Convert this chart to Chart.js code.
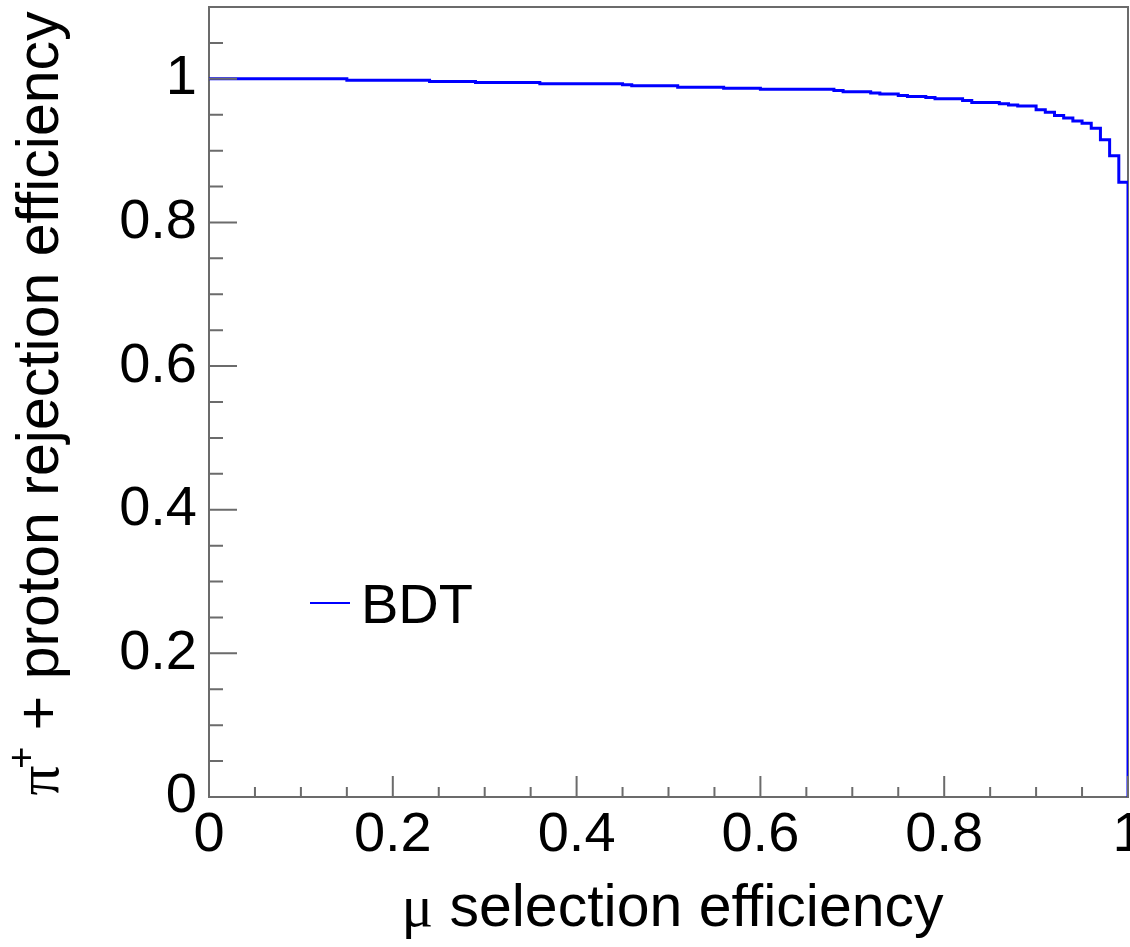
<!DOCTYPE html>
<html>
<head>
<meta charset="utf-8">
<script src="https://cdn.jsdelivr.net/npm/chart.js@4.4.1/dist/chart.umd.min.js"></script>
<style>
  html, body { margin: 0; padding: 0; background: #fff; }
  #wrap { width: 1130px; height: 947px; position: relative; }
</style>
</head>
<body>
<div id="wrap"><canvas id="roc"></canvas></div>
<script>
// --- values (step edges in x, bin value from that edge on) ---
const muEff = [0, 0.15, 0.24, 0.29, 0.36, 0.45, 0.46, 0.51, 0.56, 0.60, 0.68, 0.69,
  0.72, 0.73, 0.75, 0.76, 0.78, 0.79, 0.82, 0.83, 0.86, 0.87, 0.88, 0.90, 0.91,
  0.92, 0.93, 0.94, 0.95, 0.96, 0.97, 0.98, 0.99, 1.0];
const rejEff = [1.0, 0.998, 0.9964, 0.9947, 0.9930, 0.9916, 0.9903, 0.9884, 0.9870,
  0.9856, 0.9837, 0.9819, 0.9801, 0.9787, 0.9767, 0.9753, 0.9739, 0.9721, 0.9698,
  0.9670, 0.9652, 0.9635, 0.9620, 0.9568, 0.9533, 0.9489, 0.9453, 0.9411, 0.9380,
  0.9313, 0.9150, 0.8928, 0.8561, 0];
const xTicks = [0, 0.2, 0.4, 0.6, 0.8, 1];
const yTicks = [0, 0.2, 0.4, 0.6, 0.8, 1];
const seriesName = 'BDT';

const SANS = '"Liberation Sans", Arial, Helvetica, sans-serif';
const SERIF = '"Liberation Serif", "DejaVu Serif", serif';
const FRAME = '#6b6b6b';
const TITLE_PX = 59;

// keep the plot box fixed: no extra room for overhanging labels
function noPad(s) {
  s.paddingLeft = 0; s.paddingRight = 0; s.paddingTop = 0; s.paddingBottom = 0;
}
const fmt = v => String(Math.round(v * 10) / 10);

// --- ROOT-like frame, inward ticks, titles, legend ---
const rootFrame = {
  id: 'rootFrame',
  beforeDatasetsDraw(chart) {
    const { ctx, chartArea: a } = chart;
    ctx.save();
    ctx.strokeStyle = FRAME;
    ctx.lineWidth = 2;
    ctx.strokeRect(a.left, a.top, a.right - a.left, a.bottom - a.top);
    ctx.restore();
  },
  afterDatasetsDraw(chart) {
    const { ctx, chartArea: a, scales: { x, y } } = chart;
    ctx.save();
    ctx.strokeStyle = FRAME;
    ctx.lineWidth = 2;
    ctx.beginPath();
    // x ticks every 0.05, major every 0.2
    for (let i = 0; i <= 20; i++) {
      const px = x.getPixelForValue(i * 0.05);
      const len = i % 4 === 0 ? 21 : 10;
      ctx.moveTo(px, a.bottom);
      ctx.lineTo(px, a.bottom - len);
    }
    // y ticks every 0.05, major every 0.2
    for (let i = 0; i <= 22; i++) {
      const py = y.getPixelForValue(i * 0.05);
      const len = i % 4 === 0 ? 28 : 14;
      ctx.moveTo(a.left, py);
      ctx.lineTo(a.left + len, py);
    }
    ctx.stroke();

    ctx.fillStyle = '#000';
    ctx.textBaseline = 'alphabetic';
    ctx.textAlign = 'left';

    // x title: "μ selection efficiency"
    ctx.font = TITLE_PX + 'px ' + SERIF;
    const wMu = ctx.measureText('μ').width;
    ctx.font = TITLE_PX + 'px ' + SANS;
    const xRest = ' selection efficiency';
    const wRest = ctx.measureText(xRest).width;
    const sx = (a.left + a.right) / 2 - (wMu + wRest) / 2 + 4;
    ctx.font = TITLE_PX + 'px ' + SERIF;
    ctx.fillText('μ', sx, 926);
    ctx.font = TITLE_PX + 'px ' + SANS;
    ctx.fillText(xRest, sx + wMu, 926);

    // y title: "π+ + proton rejection efficiency" (rotated)
    ctx.save();
    ctx.translate(58, (a.top + a.bottom) / 2);
    ctx.rotate(-Math.PI / 2);
    ctx.font = TITLE_PX + 'px ' + SERIF;
    const wPi = ctx.measureText('π').width;
    ctx.font = '38px ' + SANS;
    const wSup = ctx.measureText('+').width;
    ctx.font = TITLE_PX + 'px ' + SANS;
    const yRest = ' + proton rejection efficiency';
    const wYRest = ctx.measureText(yRest).width;
    const tx = -(wPi + wSup + wYRest) / 2;
    ctx.font = TITLE_PX + 'px ' + SERIF;
    ctx.fillText('π', tx, 0);
    ctx.font = '38px ' + SANS;
    ctx.fillText('+', tx + wPi - 3, -24);
    ctx.font = TITLE_PX + 'px ' + SANS;
    ctx.fillText(yRest, tx + wPi + wSup - 3, 0);
    ctx.restore();

    // legend
    const ds = chart.data.datasets[0];
    ctx.strokeStyle = ds.borderColor;
    ctx.lineWidth = 2;
    ctx.beginPath();
    ctx.moveTo(310, 603);
    ctx.lineTo(350, 603);
    ctx.stroke();
    ctx.font = '56px ' + SANS;
    ctx.fillText(ds.label, 361, 623);
    ctx.restore();
  }
};

new Chart(document.getElementById('roc'), {
  type: 'line',
  data: {
    datasets: [{
      label: seriesName,
      data: muEff.map((v, i) => ({ x: v, y: rejEff[i] })),
      borderColor: '#0000ff',
      borderWidth: 3,
      stepped: true,
      pointRadius: 0,
      fill: false
    }]
  },
  options: {
    responsive: true,
    maintainAspectRatio: false,
    animation: false,
    devicePixelRatio: 1,
    layout: { padding: { left: 0, right: 2, top: 7, bottom: 0 } },
    plugins: { legend: { display: false }, tooltip: { enabled: false } },
    scales: {
      x: {
        type: 'linear',
        min: 0,
        max: 1,
        afterFit: s => { s.height = 150; noPad(s); },
        afterBuildTicks: s => { s.ticks = xTicks.map(v => ({ value: v })); },
        grid: { display: false, drawTicks: false },
        border: { display: false },
        ticks: {
          color: '#000',
          padding: 5,
          maxRotation: 0,
          autoSkip: false,
          callback: fmt,
          font: { family: SANS, size: 56 }
        }
      },
      y: {
        type: 'linear',
        min: 0,
        max: 1.1,
        afterFit: s => { s.width = 209; noPad(s); },
        afterBuildTicks: s => { s.ticks = yTicks.map(v => ({ value: v })); },
        grid: { display: false, drawTicks: false },
        border: { display: false },
        ticks: {
          color: '#000',
          padding: 12,
          autoSkip: false,
          callback: fmt,
          font: { family: SANS, size: 56 }
        }
      }
    }
  },
  plugins: [rootFrame]
});
</script>
</body>
</html>
